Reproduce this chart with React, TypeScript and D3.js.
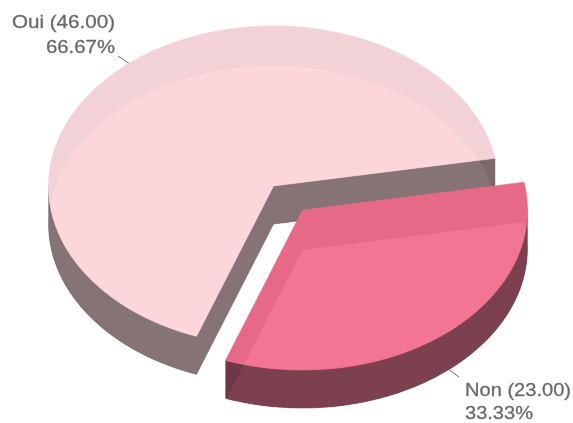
import React from "react";
import * as d3 from "d3";

const categories = ["Oui", "Non"];
const values = [46, 23];
const faceLight = ["#fbd7dc", "#f27494"];
const faceDark = ["#f2d2d6", "#e66a88"];
const wallLight = ["#857374", "#7c4150"];
const wallDark = ["#7b6b6b", "#6f3648"];

const W = 573, H = 423;
const cx = 273.5, cy = 186, rx = 225, ry = 160, depth = 38, band = 40;
const offsets = [[0, 0], [29, 24]];
const total = d3.sum(values);
const pieGen = d3.pie<number>().sort(null).startAngle((200 * Math.PI) / 180).endAngle((560 * Math.PI) / 180);
const slices = pieGen(values);

type P = [number, number];
function arcPts(a0: number, a1: number, ox: number, oy: number): P[] {
  const n = Math.max(1, Math.ceil(Math.abs(a1 - a0) / 0.01));
  return d3.range(n + 1).map((i) => {
    const a = a0 + ((a1 - a0) * i) / n;
    return [cx + ox + rx * Math.sin(a), cy + oy - ry * Math.cos(a)] as P;
  });
}
const line = d3.line<P>();
function facePts(a0: number, a1: number, ox: number, oy: number): P[] {
  return [[cx + ox, cy + oy], ...arcPts(a0, a1, ox, oy)];
}
function wallPaths(i: number, a0: number, a1: number, ox: number, oy: number): string[] {
  const down = (p: P): P => [p[0], p[1] + depth];
  const apex: P = [cx + ox, cy + oy];
  const tau = 2 * Math.PI;
  // only the front of the rim (90 to 270 degrees clockwise from 12 o'clock) can be seen
  const rimA = i === 0 ? a0 % tau : Math.PI / 2;
  const rimB = i === 0 ? (3 * Math.PI) / 2 : a1 % tau;
  const arc = arcPts(rimA, rimB, ox, oy);
  const out = [line([...arc, ...arc.slice().reverse().map(down)])! + "Z"];
  if (i === 0) {
    const first = arcPts(a0, a0, ox, oy)[0], last = arcPts(a1, a1, ox, oy)[0];
    out.push(line([apex, first, down(first), down(apex)])! + "Z");
    out.push(line([apex, last, down(last), down(apex)])! + "Z");
  }
  return out;
}

function Slice({ i, light }: { i: number; light: boolean }) {
  const s = slices[i];
  const [ox, oy] = offsets[i];
  const wc = light ? wallLight[i] : wallDark[i];
  const fc = light ? faceLight[i] : faceDark[i];
  return (
    <g clipPath={light ? `url(#clip${i})` : undefined}>
      {wallPaths(i, s.startAngle, s.endAngle, ox, oy).map((d, k) => (
        <path key={k} d={d} fill={wc} stroke={wc} strokeWidth={0.3} />
      ))}
      <path d={line(facePts(s.startAngle, s.endAngle, ox, oy))! + "Z"} fill={fc} stroke={fc} strokeWidth={0.6} />
    </g>
  );
}

const labelStyle = {
  fontFamily: "'Liberation Sans', Arial, sans-serif",
  fontSize: 18,
  fill: "#6a6a6a",
  stroke: "#6a6a6a",
  strokeWidth: 0.3,
};

export default function App() {
  const fmt = (i: number) => `${categories[i]} (${values[i].toFixed(2)})`;
  const pct = (i: number) => `${((values[i] / total) * 100).toFixed(2)}%`;
  return (
    <svg width={W} height={H} style={{ position: "absolute", left: 0, top: 0, background: "#fff" }}>
      <defs>
        <filter id="soft" x="-5%" y="-5%" width="110%" height="110%">
          <feGaussianBlur stdDeviation={0.55} />
        </filter>
        {slices.map((s, i) => (
          <clipPath id={`clip${i}`} key={i}>
            <path d={line(facePts(s.startAngle, s.endAngle, offsets[i][0], offsets[i][1] + band))! + "Z"} />
          </clipPath>
        ))}
      </defs>
      <g filter="url(#soft)">
        <path d="M118,56L130,64" stroke="#666" strokeWidth={1} fill="none" />
        <path d="M447,368L459,377" stroke="#666" strokeWidth={1} fill="none" />
        {slices.map((_, i) => (
          <g key={i}>
            <Slice i={i} light={false} />
            <Slice i={i} light={true} />
          </g>
        ))}
        <g style={labelStyle}>
          <text x={115} y={28} textAnchor="end" textLength={103} lengthAdjust="spacingAndGlyphs">{fmt(0)}</text>
          <text x={115} y={53} textAnchor="end" textLength={69} lengthAdjust="spacingAndGlyphs">{pct(0)}</text>
          <text x={465} y={396} textLength={106} lengthAdjust="spacingAndGlyphs">{fmt(1)}</text>
          <text x={465} y={419} textLength={68} lengthAdjust="spacingAndGlyphs">{pct(1)}</text>
        </g>
      </g>
    </svg>
  );
}
